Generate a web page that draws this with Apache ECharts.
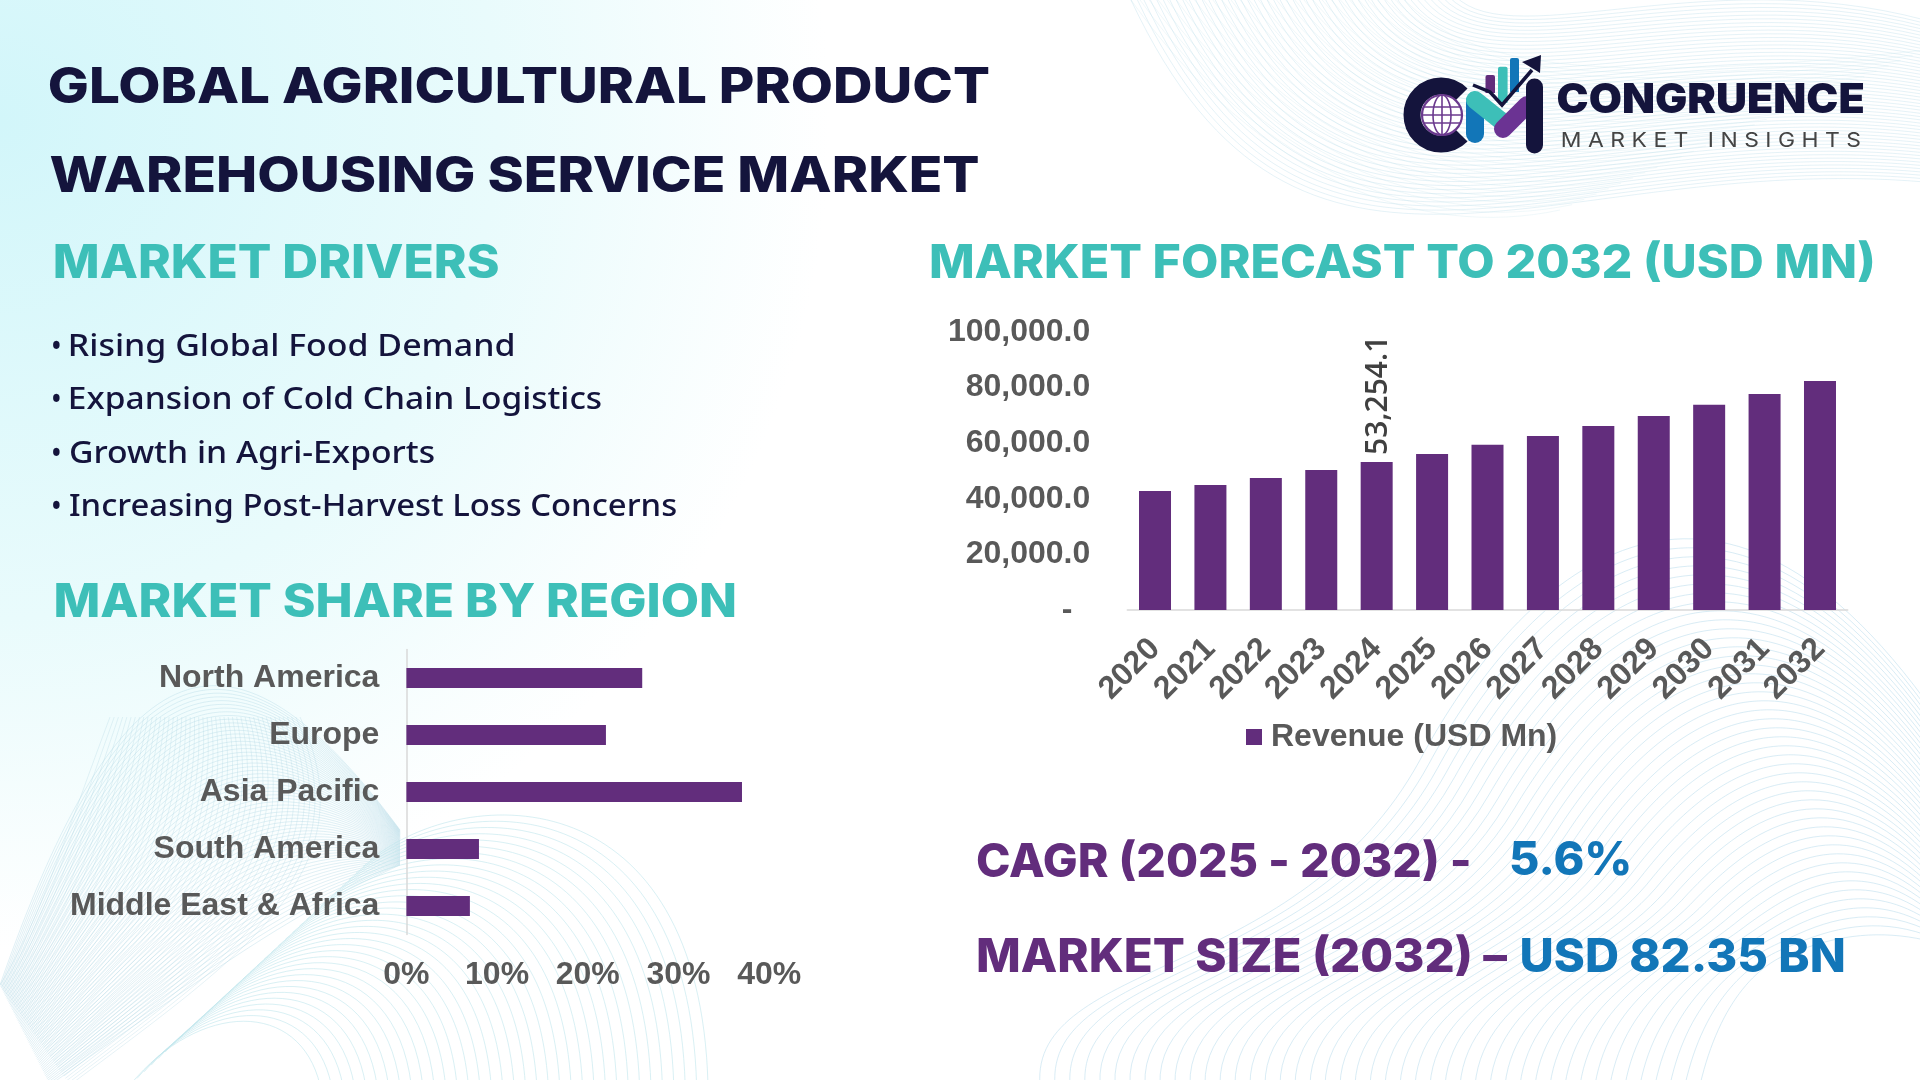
<!DOCTYPE html>
<html>
<head>
<meta charset="utf-8">
<title>Global Agricultural Product Warehousing Service Market</title>
<script src="https://cdn.jsdelivr.net/npm/echarts@6/dist/echarts.min.js"></script>
<style>
  html, body { margin: 0; padding: 0; background: #fff; }
  #chart { width: 1920px; height: 1080px; }
</style>
</head>
<body>
<div id="chart"></div>
<script>
const regions = ["North America", "Europe", "Asia Pacific", "South America", "Middle East & Africa"];
const regionShare = [26, 22, 37, 8, 7];
const regionTicks = [0, 10, 20, 30, 40];

const years = ["2020", "2021", "2022", "2023", "2024", "2025", "2026", "2027", "2028", "2029", "2030", "2031", "2032"];
const revenue = [42800, 45000, 47500, 50400, 53254.1, 56150, 59400, 62600, 66200, 69800, 73800, 77700, 82350];
const revenueTickLabels = ["-  ", "20,000.0", "40,000.0", "60,000.0", "80,000.0", "100,000.0"];

const drivers = ["Rising Global Food Demand", "Expansion of Cold Chain Logistics", "Growth in Agri-Exports", "Increasing Post-Harvest Loss Concerns"];

const NAVY = "#14143c";
const TEAL = "#3dbfb8";
const PURPLE = "#622d7c";
const BLUE = "#1276b8";
const GREY = "#595959";

const measureCtx = document.createElement("canvas").getContext("2d");

// text squeezed/stretched to the width it has in the picture
function fitText(text, x, cy, width, font, fill) {
  measureCtx.font = font;
  const m = measureCtx.measureText(text);
  const sx = width / (m.actualBoundingBoxRight + m.actualBoundingBoxLeft);
  return {
    type: "text", x: x + m.actualBoundingBoxLeft * sx, y: cy, scaleX: sx, silent: true, z: 5,
    style: { text: text, font: font, fill: fill, textAlign: "left", textVerticalAlign: "middle" }
  };
}

// background line meshes: curves blended between two cubic guides
function mesh(a, b, n, color, opacity) {
  const out = [];
  for (let i = 0; i <= n; i++) {
    const t = i / n;
    const p = a.map((v, k) => v + (b[k] - v) * t);
    out.push({
      type: "bezierCurve", silent: true, z: -10,
      shape: { x1: p[0], y1: p[1], cpx1: p[2], cpy1: p[3], cpx2: p[4], cpy2: p[5], x2: p[6], y2: p[7] },
      style: { stroke: color, lineWidth: 1, fill: null, opacity: opacity }
    });
  }
  return out;
}

function background() {
  return [
    {
      type: "rect", silent: true, z: -20,
      shape: { x: 0, y: 0, width: 1920, height: 1080 },
      style: {
        fill: new echarts.graphic.RadialGradient(0, 120, 830, [
          { offset: 0, color: "#d2f6fa" },
          { offset: 0.6, color: "#e9fbfc" },
          { offset: 1, color: "#ffffff" }
        ], true)
      }
    },
    // top right
    ...mesh([1131, 0, 1300, 360, 1550, 150, 1925, 182], [1450, -10, 1500, 60, 1700, -40, 1925, 20], 50, "#b5dbe8", 0.35),
    ...mesh([1131, 0, 1260, 180, 1420, 240, 1560, 210], [1400, -5, 1460, 60, 1560, 90, 1925, 50], 30, "#b5dbe8", 0.2),
    // bottom left
    ...mesh([0, 985, 120, 640, 230, 600, 400, 830], [50, 1085, 240, 950, 300, 910, 400, 865], 64, "#b0d8e4", 0.38),
    ...mesh([110, 717, 60, 850, 40, 920, 0, 985], [300, 717, 370, 870, 250, 950, 70, 1085], 45, "#b0d8e4", 0.32),
    // bottom centre arches
    ...mesh([370, 860, 470, 780, 700, 780, 708, 1085], [130, 1085, 200, 1000, 300, 1000, 320, 1085], 34, "#bfe6ec", 0.6),
    // bottom right, long sweep in two pieces
    ...mesh([1040, 1085, 1030, 960, 1300, 980, 1420, 760], [1700, 1085, 1720, 1000, 1760, 960, 1800, 950], 44, "#bfe0ee", 0.6),
    ...mesh([1420, 760, 1500, 610, 1690, 380, 1925, 700], [1800, 950, 1840, 935, 1880, 930, 1925, 940], 44, "#bfe0ee", 0.6)
  ];
}

function logo() {
  const z = 6;
  const bar = (x, y, w, h, fill) => ({ type: "rect", silent: true, z: z, shape: { x: x, y: y, width: w, height: h, r: [2, 2, 0, 0] }, style: { fill: fill } });
  const stroke = (pts, color, w) => ({ type: "polyline", silent: true, z: z, shape: { points: pts }, style: { stroke: color, lineWidth: w, lineCap: "round", fill: null } });
  const line = (x1, y1, x2, y2) => ({ type: "line", silent: true, z: z, shape: { x1: x1, y1: y1, x2: x2, y2: y2 }, style: { stroke: "#6b3a8e", lineWidth: 1.6 } });
  return [
    { type: "arc", silent: true, z: z, shape: { cx: 1441, cy: 115, r: 29, startAngle: Math.PI / 4, endAngle: Math.PI * 7 / 4, clockwise: true }, style: { stroke: NAVY, lineWidth: 17, fill: null } },
    { type: "circle", silent: true, z: z, shape: { cx: 1442, cy: 115, r: 20 }, style: { stroke: "#6b3a8e", lineWidth: 2.2, fill: "#fff" } },
    { type: "ellipse", silent: true, z: z, shape: { cx: 1442, cy: 115, rx: 9, ry: 20 }, style: { stroke: "#6b3a8e", lineWidth: 1.6, fill: null } },
    line(1442, 95, 1442, 135), line(1424, 107, 1460, 107), line(1424, 123, 1460, 123), line(1422, 115, 1462, 115),
    bar(1485.5, 75, 9.5, 18, PURPLE), bar(1498, 66.7, 9.6, 36, TEAL), bar(1510, 58, 9, 34, BLUE),
    stroke([[1475, 102], [1475, 134]], BLUE, 18),
    stroke([[1475, 100], [1500, 120]], TEAL, 18),
    stroke([[1503, 129], [1527, 105]], "#6b3393", 18),
    stroke([[1534.5, 87], [1534.5, 145]], NAVY, 17),
    { type: "polyline", silent: true, z: z, shape: { points: [[1473, 85], [1490, 92], [1502, 105], [1532, 70]] }, style: { stroke: NAVY, lineWidth: 3.5, fill: null } },
    { type: "polygon", silent: true, z: z, shape: { points: [[1541, 55], [1522, 62], [1532, 68], [1540, 73]] }, style: { fill: NAVY } },
    fitText("CONGRUENCE", 1557.6, 101, 306, "900 41px Inter", NAVY),
    fitText("M A R K E T   I N S I G H T S", 1562, 141, 298, "400 20px Inter", "#444444")
  ];
}

function headings() {
  const head = "800 50px Inter";
  const sub = "800 46px Inter";
  const big = "800 46px Inter";
  const item = "500 31px 'Noto Sans'";
  const rows = [347, 400, 454, 507];
  const rowWidths = [443, 531, 364, 606];
  return [
    fitText("GLOBAL AGRICULTURAL PRODUCT", 50, 88, 939, head, NAVY),
    fitText("WAREHOUSING SERVICE MARKET", 50.7, 177, 928, head, NAVY),
    fitText("MARKET DRIVERS", 55, 264, 443, sub, TEAL),
    fitText("MARKET FORECAST TO 2032 (USD MN)", 931, 264, 942, sub, TEAL),
    fitText("MARKET SHARE BY REGION", 55.7, 603, 679, sub, TEAL),
    ...drivers.map((d, i) => fitText("•", 53, rows[i], 7, item, NAVY)),
    ...drivers.map((d, i) => fitText(d, 70, rows[i], rowWidths[i], item, NAVY)),
    fitText("CAGR (2025 - 2032) -", 977, 863, 492, big, PURPLE),
    fitText("5.6%", 1511, 861, 118, big, BLUE),
    fitText("MARKET SIZE (2032) –", 978, 958, 529, big, PURPLE),
    fitText("USD 82.35 BN", 1521.5, 958, 322, big, BLUE)
  ];
}

const axisFont = { fontFamily: "'Liberation Sans'", fontWeight: "bold", fontSize: 32, color: GREY };

const option = {
  animation: false,
  backgroundColor: "#fff",
  graphic: { elements: [...background(), ...headings(), ...logo()] },
  legend: {
    data: ["Revenue (USD Mn)"],
    left: 1241, top: 716,
    itemWidth: 16, itemHeight: 16,
    icon: "rect",
    textStyle: Object.assign({ padding: [0, 0, 0, 4] }, axisFont)
  },
  grid: [
    { left: 406.4, top: 649.5, width: 362.8, height: 285 },
    { left: 1127.3, top: 332, width: 720.4, height: 278 }
  ],
  xAxis: [
    {
      gridIndex: 0, type: "value", min: regionTicks[0], max: regionTicks[4], interval: 10,
      axisLine: { show: false }, axisTick: { show: false }, splitLine: { show: false },
      axisLabel: Object.assign({ margin: 25, formatter: "{value}%" }, axisFont)
    },
    {
      gridIndex: 1, type: "category", data: years,
      axisLine: { lineStyle: { color: "#d9d9d9", width: 1.5 } }, axisTick: { show: false },
      axisLabel: Object.assign({ rotate: 45, margin: 34, interval: 0 }, axisFont)
    }
  ],
  yAxis: [
    {
      gridIndex: 0, type: "category", data: regions, inverse: true,
      axisLine: { lineStyle: { color: "#d9d9d9", width: 1.5 } }, axisTick: { show: false },
      axisLabel: Object.assign({ margin: 27, padding: [6, 0, 0, 0] }, axisFont)
    },
    {
      gridIndex: 1, type: "value", min: 0, max: 100000, interval: 20000,
      axisLine: { show: false }, axisTick: { show: false }, splitLine: { show: false },
      axisLabel: Object.assign({ margin: 37, padding: [6, 0, 0, 0], formatter: v => revenueTickLabels[v / 20000] }, axisFont)
    }
  ],
  series: [
    {
      name: "Market share", type: "bar", xAxisIndex: 0, yAxisIndex: 0,
      data: regionShare, barWidth: 20,
      itemStyle: { color: PURPLE }
    },
    {
      name: "Revenue (USD Mn)", type: "bar", xAxisIndex: 1, yAxisIndex: 1,
      data: revenue.map((v, i) => years[i] === "2024"
        ? { value: v, label: { show: true, formatter: "53,254.1" } }
        : v),
      barWidth: 32,
      itemStyle: { color: PURPLE },
      label: {
        show: false, position: "top", rotate: 90, align: "left", verticalAlign: "middle", distance: 7, offset: [0, 2],
        fontFamily: "'Open Sans'", fontWeight: 600, fontSize: 30, color: "#404040"
      }
    }
  ]
};

const chart = echarts.init(document.getElementById("chart"));
chart.setOption(option);
</script>
</body>
</html>
